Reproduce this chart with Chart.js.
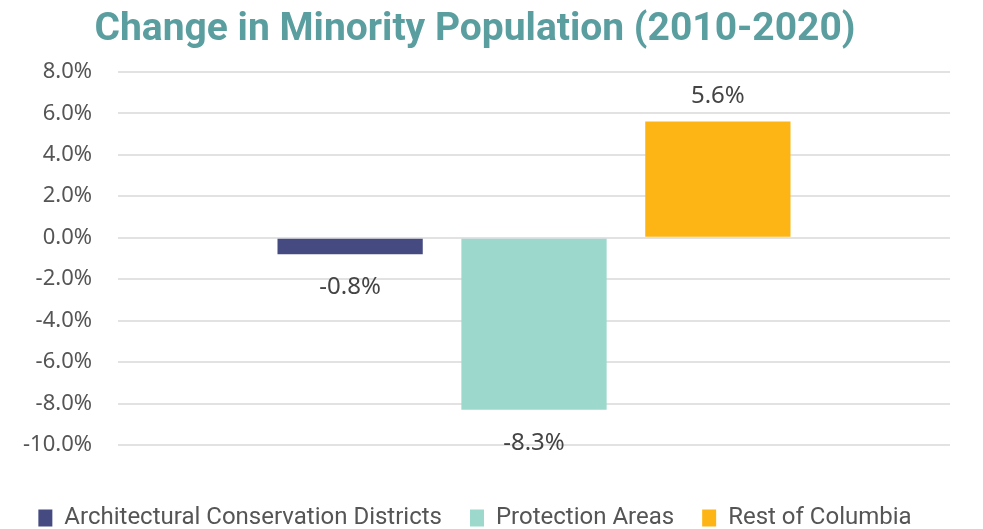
<!DOCTYPE html>
<html>
<head>
<meta charset="utf-8">
<script src="https://cdn.jsdelivr.net/npm/chart.js@4"></script>
<style>
  html, body { margin: 0; padding: 0; background: #fff; }
  #wrap { width: 983px; height: 529px; }
</style>
</head>
<body>
<div id="wrap"><canvas id="minorityChart"></canvas></div>
<script>
// data
const categories = ['Change'];
const seriesNames = ['Architectural Conservation Districts', 'Protection Areas', 'Rest of Columbia'];
const seriesValues = [-0.8, -8.3, 5.6];
const seriesColors = ['#454B80', '#9DD8CD', '#FDB515'];
const yTicks = [-10, -8, -6, -4, -2, 0, 2, 4, 6, 8];

// draws the value above / below each bar
const valueLabels = {
    id: 'valueLabels',
    afterDatasetsDraw(chart) {
        const ctx = chart.ctx;
        ctx.save();
        ctx.font = '24px "Noto Sans"';
        ctx.fillStyle = '#444';
        ctx.textAlign = 'center';
        ctx.textBaseline = 'middle';
        chart.data.datasets.forEach((ds, i) => {
            const bar = chart.getDatasetMeta(i).data[0];
            const v = ds.data[0];
            const y = v >= 0 ? bar.y - 25 : bar.y + 33;
            ctx.fillText(v.toFixed(1) + '%', bar.x, y);
        });
        ctx.restore();
    }
};

const datasets = seriesNames.map((name, i) => ({
    label: name,
    data: [seriesValues[i]],
    backgroundColor: seriesColors[i],
    borderWidth: 0,
    categoryPercentage: 0.663,
    barPercentage: 0.79
}));

new Chart(document.getElementById('minorityChart').getContext('2d'), {
    type: 'bar',
    data: { labels: categories, datasets: datasets },
    plugins: [valueLabels],
    options: {
        responsive: true,
        maintainAspectRatio: false,
        animation: false,
        layout: { padding: { left: 0, right: 33, top: 7, bottom: -11 } },
        plugins: {
            title: {
                display: true,
                text: 'Change in Minority Population (2010-2020)',
                color: '#5A9EA0',
                font: { family: 'Roboto', size: 39, weight: 'bold' },
                padding: { top: 0, bottom: 18 }
            },
            legend: {
                position: 'bottom',
                labels: {
                    color: '#555',
                    font: { family: 'Roboto', size: 24 },
                    boxWidth: 14,
                    boxHeight: 17,
                    padding: 28
                }
            },
            tooltip: { enabled: false }
        },
        scales: {
            x: {
                grid: { display: false },
                ticks: { display: false },
                border: { display: false },
                afterFit: (scale) => { scale.height = 33; }
            },
            y: {
                min: -10,
                max: 8,
                afterBuildTicks: (scale) => {
                    scale.ticks = yTicks.map(v => ({ value: v }));
                },
                afterFit: (scale) => { scale.width = 118; },
                grid: { color: '#e2e2e2', lineWidth: 2, drawTicks: false },
                border: { display: false },
                ticks: {
                    color: '#555',
                    font: { family: 'Noto Sans', size: 22 },
                    padding: 26,
                    callback: (value) => value.toFixed(1) + '%'
                }
            }
        }
    }
});
</script>
</body>
</html>
